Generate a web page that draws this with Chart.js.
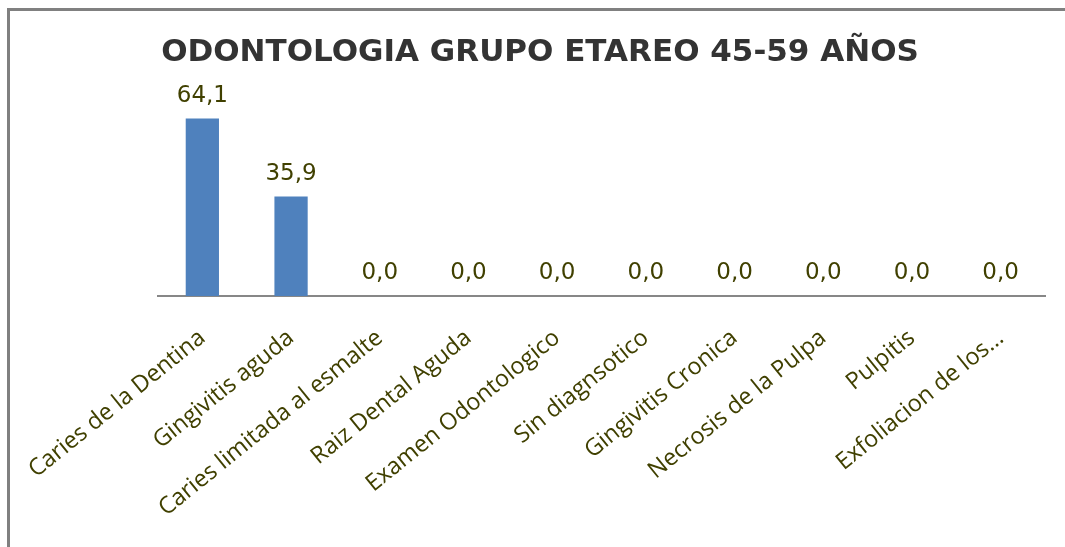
<!DOCTYPE html>
<html>
<head>
<meta charset="utf-8">
<script src="https://cdn.jsdelivr.net/npm/chart.js@4/dist/chart.umd.min.js"></script>
<style>
	html, body { margin: 0; padding: 0; background: #fff; }
	#wrap { position: relative; width: 1065px; height: 547px; overflow: hidden; }
	#frame { position: absolute; left: 7px; top: 8px; width: 1100px; height: 600px;
		border-left: 3px solid #808080; border-top: 3px solid #808080; }
	#chart { position: absolute; left: 0; top: 0; }
</style>
</head>
<body>
<div id="wrap">
	<div id="frame"></div>
	<canvas id="chart" width="1065" height="547"></canvas>
</div>
<script>
var categories = ['Caries de la Dentina', 'Gingivitis aguda', 'Caries limitada al esmalte',
	'Raiz Dental Aguda', 'Examen Odontologico', 'Sin diagnsotico', 'Gingivitis Cronica',
	'Necrosis de la Pulpa', 'Pulpitis', 'Exfoliacion de los\u2026'];
var porcentajes = [64.1, 35.9, 0.0, 0.0, 0.0, 0.0, 0.0, 0.0, 0.0, 0.0];
var titulo = 'ODONTOLOGIA GRUPO ETAREO 45-59 AÑOS';

// etiquetas de valor encima de cada barra
var valueLabels = {
	id : 'valueLabels',
	afterDatasetsDraw : function(chart) {
		var ctx = chart.ctx;
		var meta = chart.getDatasetMeta(0);
		ctx.save();
		ctx.font = '23px "DejaVu Sans"';
		ctx.fillStyle = '#404000';
		ctx.textAlign = 'center';
		ctx.textBaseline = 'alphabetic';
		meta.data.forEach(function(bar, i) {
			ctx.fillText(porcentajes[i].toFixed(1).replace('.', ','), bar.x, bar.y - 17);
		});
		ctx.restore();
	}
};

var hidden = {
	grid : { display : false },
	border : { display : false },
	ticks : { display : false }
};

var chart = new Chart(document.getElementById('chart'), {
	type : 'bar',
	data : {
		labels : categories,
		datasets : [ {
			data : porcentajes,
			backgroundColor : '#4F81BD',
			barPercentage : 0.375,
			categoryPercentage : 1.0
		} ]
	},
	options : {
		responsive : false,
		animation : false,
		layout : {
			padding : { left : 25, right : 10, top : 0, bottom : 0 }
		},
		plugins : {
			legend : { display : false },
			tooltip : { enabled : false },
			title : {
				display : true,
				text : titulo,
				color : '#333333',
				font : { family : '"DejaVu Sans"', size : 31, weight : 'bold' },
				padding : { top : 34, bottom : 31 }
			}
		},
		scales : {
			x : {
				grid : { display : false },
				border : { color : '#878787', width : 2 },
				ticks : {
					color : '#404000',
					font : { family : '"Open Sans"', size : 23.5 },
					minRotation : 39,
					maxRotation : 39,
					autoSkip : false,
					padding : 20
				},
				afterFit : function(scale) {
					scale.height = 251;
				}
			},
			y : {
				display : true,
				min : 0,
				max : 70,
				grid : hidden.grid,
				border : hidden.border,
				ticks : hidden.ticks,
				afterFit : function(scale) {
					scale.width = 133;
				}
			},
			yDer : {
				display : true,
				position : 'right',
				grid : hidden.grid,
				border : hidden.border,
				ticks : hidden.ticks,
				afterFit : function(scale) {
					scale.width = 10;
				}
			}
		}
	},
	plugins : [ valueLabels ]
});
</script>
</body>
</html>
